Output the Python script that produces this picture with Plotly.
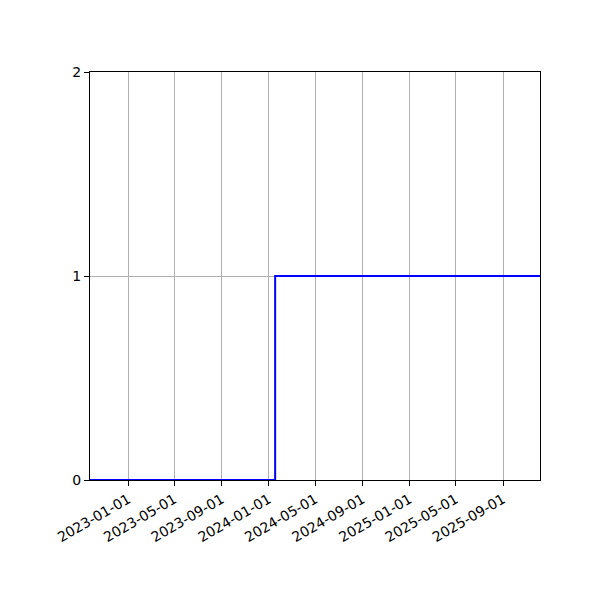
import plotly.graph_objects as go

# step series
dates = ["2022-09-24", "2024-01-18", "2025-12-06"]
values = [0, 1, 1]

tick_dates = [
    "2023-01-01", "2023-05-01", "2023-09-01", "2024-01-01", "2024-05-01",
    "2024-09-01", "2025-01-01", "2025-05-01", "2025-09-01",
]
y_ticks = [0, 1, 2]

fig = go.Figure()
fig.add_trace(
    go.Scatter(
        x=dates,
        y=values,
        mode="lines",
        line=dict(color="#0000ff", width=2, shape="hv"),
        showlegend=False,
    )
)

axis_style = dict(
    showline=True,
    linecolor="black",
    linewidth=1,
    mirror=True,
    ticks="outside",
    ticklen=5,
    tickcolor="black",
    showgrid=True,
    gridcolor="#b0b0b0",
    gridwidth=1,
    zeroline=False,
)

fig.update_xaxes(
    range=["2022-09-24", "2025-12-06"],
    tickvals=tick_dates,
    ticktext=tick_dates,
    tickangle=-30,
    **axis_style,
)
fig.update_yaxes(range=[0, 2], tickvals=y_ticks, **axis_style)

# page body adds ~8px offset, so margins are shifted accordingly
fig.update_layout(
    width=600,
    height=600,
    margin=dict(l=82, r=68, t=64, b=128),
    plot_bgcolor="white",
    paper_bgcolor="white",
    font=dict(family="DejaVu Sans", size=14, color="black"),
)

fig.write_html("out.html")
